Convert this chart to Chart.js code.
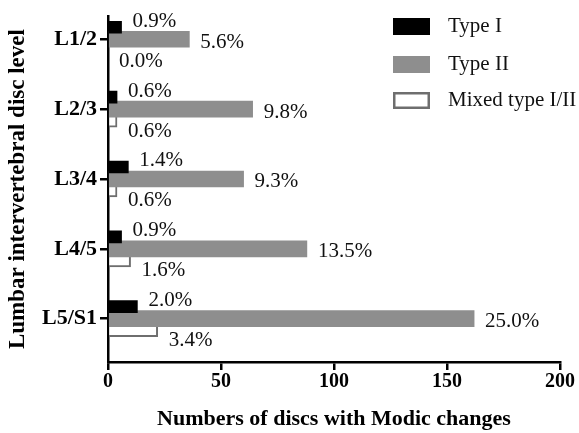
<!DOCTYPE html>
<html>
<head>
<meta charset="utf-8">
<script src="https://cdn.jsdelivr.net/npm/chart.js@4.4.1/dist/chart.umd.min.js"></script>
<style>
  html, body { margin: 0; padding: 0; background: #fff; }
  #wrap { width: 579px; height: 433px; }
</style>
</head>
<body>
<div id="wrap"><canvas id="chart" width="579" height="433"></canvas></div>
<script>
// Modic changes per lumbar disc level (counts, labels as printed)
const categories = ['L1/2', 'L2/3', 'L3/4', 'L4/5', 'L5/S1'];
const typeI = [6, 4, 9, 6, 13];
const typeII = [36, 64, 60, 88, 162];
const mixed = [0, 4, 4, 10, 22];
const typeIPct = ['0.9%', '0.6%', '1.4%', '0.9%', '2.0%'];
const typeIIPct = ['5.6%', '9.8%', '9.3%', '13.5%', '25.0%'];
const mixedPct = ['0.0%', '0.6%', '0.6%', '1.6%', '3.4%'];
const xTicks = [0, 50, 100, 150, 200];

const SERIF = '"Liberation Serif", "Times New Roman", serif';
const GRAY = '#8e8e8e';
const OUTLINE = '#6e6e6e';

const toPoints = (vals) => vals.map((v, i) => ({ x: v, y: i }));

// percent labels next to each bar, nudged up/down per series like the original
const pctLabels = {
  id: 'pctLabels',
  afterDatasetsDraw(chart) {
    const sets = [
      { texts: typeIPct, dy: -6 },
      { texts: typeIIPct, dy: 3 },
      { texts: mixedPct, dy: 10 },
    ];
    const { ctx } = chart;
    ctx.save();
    ctx.font = `21px ${SERIF}`;
    ctx.fillStyle = '#111';
    ctx.textAlign = 'left';
    ctx.textBaseline = 'middle';
    sets.forEach((s, di) => {
      chart.getDatasetMeta(di).data.forEach((el, i) => {
        ctx.fillText(s.texts[i], el.x + 11, el.y + s.dy);
      });
    });
    ctx.restore();
  },
};

// legend sits inside the plot, top right, one item per row
const boxLegend = {
  id: 'boxLegend',
  afterDraw(chart) {
    const { ctx } = chart;
    const x0 = 393, w = 37, h = 17, rowTop = [18, 56, 92];
    ctx.save();
    ctx.font = `21px ${SERIF}`;
    ctx.textBaseline = 'middle';
    chart.data.datasets.forEach((ds, i) => {
      const y = rowTop[i];
      if (ds.borderWidth) {
        ctx.fillStyle = '#fff';
        ctx.fillRect(x0, y, w, h);
        ctx.strokeStyle = ds.borderColor;
        ctx.lineWidth = 2.5;
        ctx.strokeRect(x0 + 1.25, y + 1.25, w - 2.5, h - 2.5);
      } else {
        ctx.fillStyle = ds.backgroundColor;
        ctx.fillRect(x0, y, w, h);
      }
      ctx.fillStyle = '#111';
      ctx.fillText(ds.label, 448, y + h / 2);
    });
    ctx.restore();
  },
};

new Chart(document.getElementById('chart'), {
  type: 'bar',
  data: {
    datasets: [
      { label: 'Type I', data: toPoints(typeI), backgroundColor: '#000', barThickness: 12 },
      { label: 'Type II', data: toPoints(typeII), backgroundColor: GRAY, barThickness: 16 },
      {
        label: 'Mixed type I/II', data: toPoints(mixed), backgroundColor: '#fff',
        borderColor: OUTLINE, borderWidth: 2, borderSkipped: 'start', barThickness: 12,
      },
    ],
  },
  options: {
    indexAxis: 'y',
    responsive: false,
    animation: false,
    layout: { padding: { top: 13, right: 19, left: 0, bottom: 0 } },
    scales: {
      x: {
        type: 'linear', min: 0, max: 200,
        afterBuildTicks: (s) => { s.ticks = xTicks.map((v) => ({ value: v })); },
        afterFit: (s) => { s.height = 71; },
        ticks: { color: '#000', padding: 0, font: { family: SERIF, size: 20, weight: 'bold' } },
        grid: { drawOnChartArea: false, drawTicks: true, tickLength: 8, color: '#000', lineWidth: 2.5 },
        border: { display: true, color: '#000', width: 2.5 },
        title: {
          display: true, text: 'Numbers of discs with Modic changes', color: '#000',
          padding: { top: 0, bottom: 0 }, font: { family: SERIF, size: 22, weight: 'bold' },
        },
      },
      y: {
        type: 'linear', reverse: true, min: -0.33, max: 4.62, offset: false,
        afterBuildTicks: (s) => { s.ticks = categories.map((c, i) => ({ value: i })); },
        afterFit: (s) => { s.width = 108; },
        ticks: {
          color: '#000', padding: 3, callback: (v) => categories[v],
          font: { family: SERIF, size: 22, weight: 'bold' },
        },
        grid: {
          offset: false, drawOnChartArea: false, drawTicks: true, tickLength: 8,
          color: '#000', lineWidth: 2.5,
        },
        border: { display: true, color: '#000', width: 2.5 },
        title: {
          display: true, text: 'Lumbar intervertebral disc level', color: '#000',
          padding: { top: 4, bottom: 0 }, font: { family: SERIF, size: 23, weight: 'bold' },
        },
      },
    },
    plugins: { legend: { display: false }, tooltip: { enabled: false } },
  },
  plugins: [pctLabels, boxLegend],
});
</script>
</body>
</html>
